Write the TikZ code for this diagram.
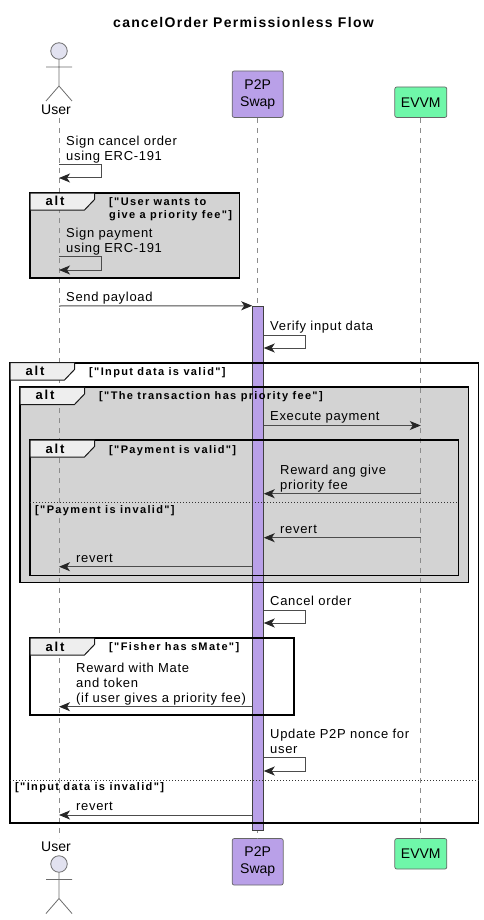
\documentclass[tikz,border=0pt]{standalone}
\usepackage{fontspec}
\setmainfont{Liberation Sans}
\newfontfamily\msgfont[LetterSpace=5.3]{Liberation Sans}
\newfontfamily\guardfont[LetterSpace=12.3]{Liberation Sans}
\newfontfamily\altfont[LetterSpace=14]{Liberation Sans}
\newfontfamily\titlefont[LetterSpace=9.3]{Liberation Sans}
\usetikzlibrary{arrows.meta, positioning}
\definecolor{swapfill}{HTML}{B9A0E8}
\definecolor{evvmfill}{HTML}{6FF7A9}
\definecolor{actorfill}{HTML}{E2E2F0}
\definecolor{bandfill}{HTML}{D3D3D3}
\definecolor{tabfill}{HTML}{EEEEEE}

\begin{document}
\begin{tikzpicture}[
    x=1pt, y=-1pt,
    >={Stealth[length=11pt, width=9pt, inset=3pt, black!85]},
    part/.style  ={draw=gray!80!black, rounded corners=2pt, line width=0.7pt, align=center,
                   inner sep=0pt, font=\fontsize{14}{16}\selectfont},
    swap/.style  ={part, fill=swapfill, minimum width=51pt, minimum height=46.5pt},
    evvm/.style  ={part, fill=evvmfill, minimum width=52pt, minimum height=30.5pt},
    life/.style  ={draw=gray!90, line width=0.8pt, dash pattern=on 5pt off 5pt},
    actor/.style ={draw=gray!85!black, line width=0.8pt},
    activ/.style ={draw=gray!50!black, fill=swapfill, line width=1pt, minimum width=10.5pt,
                   inner sep=0pt, minimum height=524.5pt},
    band/.style  ={anchor=north west, inner sep=0pt},
    frame/.style ={draw=black, line width=1.8pt},
    tab/.style   ={draw=black!90, fill=tabfill, line width=1pt},
    alt/.style   ={font=\altfont\fontsize{13}{15}\selectfont\bfseries, inner sep=0pt, anchor=base},
    guard/.style ={font=\guardfont\fontsize{11}{13}\selectfont\bfseries, inner sep=0pt,
                   align=left, anchor=base west},
    msg/.style   ={font=\msgfont\fontsize{13}{15}\selectfont, inner sep=0pt, align=left, anchor=base west},
    flow/.style  ={->, draw=black!70, line width=1pt},
    split/.style ={draw=black!80, line width=1pt, dotted},
]
\useasboundingbox (0,0) rectangle (484,920);
\node[font=\titlefont\fontsize{14}{16}\selectfont\bfseries, inner sep=0pt] (title) at (243.5,22.5)
     {cancelOrder Permissionless Flow};
% grey bands go under the lifelines
\node[band, fill=bandfill, minimum width=209pt, minimum height=84.5pt] (fsign) at (30,193) {};
\node[band, minimum width=468pt, minimum height=460pt] (fdata) at (10,362.7) {};
\node[band, fill=bandfill, minimum width=448pt, minimum height=194.7pt] (fprio) at (20,387.3) {};
\node[band, minimum width=428pt, minimum height=135pt] (fpay) at (30,440) {};
\node[band, minimum width=263.5pt, minimum height=76.7pt] (fmate) at (30,638) {};
% participants top and bottom
\node[swap] (swaptop) at (257.7,94.2) {P2P\\[1pt]Swap};
\node[evvm] (evvmtop) at (420.8,102.2) {EVVM};
\node[swap] (swapbot) at (257.7,861.8) {P2P\\[1pt]Swap};
\node[evvm] (evvmbot) at (420.8,853.8) {EVVM};
\node[font=\fontsize{14}{16}\selectfont, inner sep=0pt] (usertop) at (56,110) {User};
\node[font=\fontsize{14}{16}\selectfont, inner sep=0pt] (userbot) at (56,847) {User};
\coordinate (lifetop) at (59,118);
\coordinate (lifebot) at (59,838);
% lifelines
\draw[life] (lifetop) -- (lifebot);
\draw[life] (swaptop) -- (swapbot);
\draw[life] (evvmtop) -- (evvmbot);
% stick figures
\node[actor, fill=actorfill, circle, minimum size=16.5pt, inner sep=0pt] (headtop) at (59,51) {};
\draw[actor] (headtop.south) -- (59,86) -- (46,101) (59,86) -- (72,101) (46,67) -- (72,67);
\node[actor, fill=actorfill, circle, minimum size=16.5pt, inner sep=0pt] (headbot) at (59,864) {};
\draw[actor] (headbot.south) -- (59,898.5) -- (46,913.5) (59,898.5) -- (72,913.5) (46,879.5) -- (72,879.5);
% activation bar
\node[activ] (bar) at (258,568.5) {};
% frames
\draw[frame] (fsign.north west) rectangle (fsign.south east);
\draw[frame] (fdata.north west) rectangle (fdata.south east);
\draw[frame] (fprio.north west) rectangle (fprio.south east);
\draw[frame] (fpay.north west) rectangle (fpay.south east);
\draw[frame] (fmate.north west) rectangle (fmate.south east);
\draw[tab] (fsign.north west) -- (94.5,193) -- (94.5,199.5) -- (84.5,210) -- (30,210) -- cycle;
\draw[tab] (fdata.north west) -- (74.5,362.7) -- (74.5,369.5) -- (64.5,380) -- (10,380) -- cycle;
\draw[tab] (fprio.north west) -- (84.5,387.3) -- (84.5,394) -- (74.5,404.5) -- (20,404.5) -- cycle;
\draw[tab] (fpay.north west) -- (94.5,440) -- (94.5,446.5) -- (84.5,457) -- (30,457) -- cycle;
\draw[tab] (fmate.north west) -- (94.5,638) -- (94.5,644.5) -- (84.5,655) -- (30,655) -- cycle;
\node[alt] (altsign) at (55,205.5) {alt};
\node[alt] (altdata) at (35,375.5) {alt};
\node[alt] (altprio) at (45,399.5) {alt};
\node[alt] (altpay) at (55,453.5) {alt};
\node[alt] (altmate) at (55,651) {alt};
\node[guard] (gsign) at (109,218) {["User wants to\\give a priority fee"]};
\node[guard] (gdata) at (89,375) {["Input data is valid"]};
\node[guard] (gnodata) at (15,790) {["Input data is invalid"]};
\node[guard] (gprio) at (99,399) {["The transaction has priority fee"]};
\node[guard] (gpay) at (109,453) {["Payment is valid"]};
\node[guard] (gnopay) at (35,513) {["Payment is invalid"]};
\node[guard] (gmate) at (109,650) {["Fisher has sMate"]};
% alt separators
\draw[split] (fpay.west |- 0,502.7) -- (fpay.east |- 0,502.7);
\draw[split] (fdata.west |- 0,780) -- (fdata.east |- 0,780);
% messages
\node[msg] (tsign) at (66,160.7) {Sign cancel order\\using ERC-191};
\draw[flow] (lifetop |- 0,164.5) -- (101,164.5) -- (101,178) -- (lifetop |- 0,178);
\node[msg] (tpay) at (66,252) {Sign payment\\using ERC-191};
\draw[flow] (lifetop |- 0,256.5) -- (101,256.5) -- (101,270) -- (lifetop |- 0,270);
\node[msg] (tsend) at (66,301) {Send payload};
\draw[flow] (lifetop |- 0,306) -- (bar.north west);
\node[msg] (tverify) at (270,330.5) {Verify input data};
\draw[flow] (bar.east |- 0,335.3) -- (305,335.3) -- (305,348) -- (bar.east |- 0,348);
\node[msg] (texec) at (270,420) {Execute payment};
\draw[flow] (bar.east |- 0,425.5) -- (evvmtop.south |- 0,425.5);
\node[msg] (treward) at (280,489) {Reward ang give\\priority fee};
\draw[flow] (evvmtop.south |- 0,493.7) -- (bar.east |- 0,493.7);
\node[msg] (trevone) at (280,533) {revert};
\draw[flow] (evvmtop.south |- 0,537.7) -- (bar.east |- 0,537.7);
\node[msg] (trevtwo) at (76,562) {revert};
\draw[flow] (bar.west |- 0,566.7) -- (lifetop |- 0,566.7);
\node[msg] (tcancel) at (270,605) {Cancel order};
\draw[flow] (bar.east |- 0,610) -- (305,610) -- (305,623) -- (bar.east |- 0,623);
\node[msg] (tmate) at (76,702) {Reward with Mate\\and token\\(if user gives a priority fee)};
\draw[flow] (bar.west |- 0,706.7) -- (lifetop |- 0,706.7);
\node[msg] (tnonce) at (270,753) {Update P2P nonce for\\user};
\draw[flow] (bar.east |- 0,757.5) -- (305,757.5) -- (305,771) -- (bar.east |- 0,771);
\node[msg] (trevthree) at (76,810) {revert};
\draw[flow] (bar.west |- 0,815) -- (lifetop |- 0,815);
\end{tikzpicture}
\end{document}
